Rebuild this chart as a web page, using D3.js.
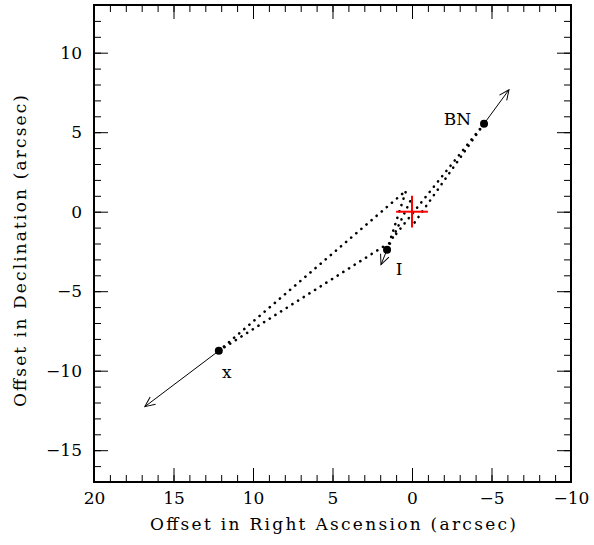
<!DOCTYPE html>
<html>
<head>
<meta charset="utf-8">
<script src="https://cdn.jsdelivr.net/npm/d3@7"></script>
<style>
  body { margin: 0; background: #fff; }
  text { font-family: "DejaVu Serif", serif; fill: #000; }
</style>
</head>
<body>
<div id="chart"></div>
<script>
// sources: current position (arcsec) and proper motion arrow tip
const names = ["BN", "I", "x"];
const srcRA = [-4.53, 1.57, 12.15];
const srcDec = [5.53, -2.39, -8.75];
const tipRA = [-6.1, 1.95, 16.8];
const tipDec = [7.67, -3.33, -12.26];

// back-extrapolated paths (dotted), from source to end point
const pathFrom = [0, 0, 1, 1, 2, 2];
const pathEndRA = [1.19, 0.06, 0.38, 0.0, 0.38, 1.51];
const pathEndDec = [-1.64, -1.0, 1.30, 0.9, 1.32, -2.01];

// reference centre
const centreRA = [0];
const centreDec = [0];

const xTicks = [20, 15, 10, 5, 0, -5, -10];
const yTicks = [-15, -10, -5, 0, 5, 10];

let W = 594, H = 545;
let margin = { left: 94, right: 23, top: 5, bottom: 63 };

let svg = d3.select("#chart").append("svg")
  .attr("width", W)
  .attr("height", H);

let x = d3.scaleLinear().domain([20, -10]).range([margin.left, W - margin.right]);
let y = d3.scaleLinear().domain([-17, 13]).range([H - margin.bottom, margin.top]);

let minorX = d3.range(-10, 21, 1);
let minorY = d3.range(-17, 14, 1);
let fmt = d3.format("d");

/* ------------------ axes ------------------ */
function addAxis(axis, tr) {
  let g = svg.append("g").attr("transform", tr).call(axis);
  g.select(".domain").remove();
  g.selectAll("line").attr("stroke", "#000").attr("stroke-width", 1);
  g.selectAll("text").style("font-size", "17px").attr("font-family", "DejaVu Serif");
  return g;
}
let pBottom = H - margin.bottom, pTop = margin.top, pLeft = margin.left, pRight = W - margin.right;

addAxis(d3.axisBottom(x).tickValues(minorX).tickSize(-7).tickFormat(""), `translate(0,${pBottom})`);
addAxis(d3.axisBottom(x).tickValues(xTicks).tickSize(-14).tickPadding(10).tickFormat(fmt), `translate(0,${pBottom})`);
addAxis(d3.axisTop(x).tickValues(minorX).tickSize(-7).tickFormat(""), `translate(0,${pTop})`);
addAxis(d3.axisTop(x).tickValues(xTicks).tickSize(-14).tickFormat(""), `translate(0,${pTop})`);
addAxis(d3.axisLeft(y).tickValues(minorY).tickSize(-7).tickFormat(""), `translate(${pLeft},0)`);
addAxis(d3.axisLeft(y).tickValues(yTicks).tickSize(-14).tickPadding(12).tickFormat(fmt), `translate(${pLeft},0)`);
addAxis(d3.axisRight(y).tickValues(minorY).tickSize(-7).tickFormat(""), `translate(${pRight},0)`);
addAxis(d3.axisRight(y).tickValues(yTicks).tickSize(-14).tickFormat(""), `translate(${pRight},0)`);

svg.append("rect")
  .attr("x", pLeft).attr("y", pTop)
  .attr("width", pRight - pLeft).attr("height", pBottom - pTop)
  .attr("fill", "none").attr("stroke", "#000").attr("stroke-width", 2);

svg.append("text")
  .attr("x", 333).attr("y", 530)
  .attr("text-anchor", "middle")
  .attr("textLength", 366)
  .attr("lengthAdjust", "spacing")
  .style("font-size", "17px")
  .text("Offset in Right Ascension (arcsec)");

svg.append("text")
  .attr("transform", `translate(26,251) rotate(-90)`)
  .attr("text-anchor", "middle")
  .attr("textLength", 312)
  .attr("lengthAdjust", "spacing")
  .style("font-size", "17px")
  .text("Offset in Declination (arcsec)");

/* ------------------ dotted paths ------------------ */
svg.append("g").selectAll("line")
  .data(pathFrom)
  .enter().append("line")
  .attr("x1", d => x(srcRA[d]))
  .attr("y1", d => y(srcDec[d]))
  .attr("x2", (d, i) => x(pathEndRA[i]))
  .attr("y2", (d, i) => y(pathEndDec[i]))
  .attr("stroke", "#000")
  .attr("stroke-width", 2.6)
  .attr("stroke-linecap", "round")
  .attr("stroke-dasharray", "0.1,6.6");

/* ------------------ arrows ------------------ */
svg.append("defs").append("marker")
  .attr("id", "head")
  .attr("viewBox", "0 0 12 12")
  .attr("refX", 11).attr("refY", 6)
  .attr("markerWidth", 12).attr("markerHeight", 12)
  .attr("markerUnits", "userSpaceOnUse")
  .attr("orient", "auto")
  .append("path")
  .attr("d", "M1,1.5 L11,6 L1,10.5")
  .attr("fill", "none").attr("stroke", "#000").attr("stroke-width", 1);

svg.append("g").selectAll("line")
  .data(names)
  .enter().append("line")
  .attr("x1", (d, i) => x(srcRA[i]))
  .attr("y1", (d, i) => y(srcDec[i]))
  .attr("x2", (d, i) => x(tipRA[i]))
  .attr("y2", (d, i) => y(tipDec[i]))
  .attr("stroke", "#000")
  .attr("stroke-width", 1)
  .attr("marker-end", "url(#head)");

svg.append("g").selectAll("circle")
  .data(names)
  .enter().append("circle")
  .attr("cx", (d, i) => x(srcRA[i]))
  .attr("cy", (d, i) => y(srcDec[i]))
  .attr("r", 4)
  .attr("fill", "#000");

// labels
let labelDx = [-13, 12, 8];
let labelDy = [1, 25, 27];
let labelAnchor = ["end", "middle", "middle"];
svg.append("g").selectAll("text")
  .data(names)
  .enter().append("text")
  .attr("x", (d, i) => x(srcRA[i]) + labelDx[i])
  .attr("y", (d, i) => y(srcDec[i]) + labelDy[i])
  .attr("text-anchor", (d, i) => labelAnchor[i])
  .style("font-size", "17px")
  .text(d => d);

/* ------------------ red cross ------------------ */
let cross = svg.append("g");
cross.selectAll(".h").data(centreRA).enter().append("line").attr("class", "h")
  .attr("x1", d => x(d + 1)).attr("x2", d => x(d - 1))
  .attr("y1", (d, i) => y(centreDec[i])).attr("y2", (d, i) => y(centreDec[i]));
cross.selectAll(".v").data(centreRA).enter().append("line").attr("class", "v")
  .attr("x1", d => x(d)).attr("x2", d => x(d))
  .attr("y1", (d, i) => y(centreDec[i] + 1)).attr("y2", (d, i) => y(centreDec[i] - 1));
cross.selectAll("line").attr("stroke", "#f00").attr("stroke-width", 2);
</script>
</body>
</html>
